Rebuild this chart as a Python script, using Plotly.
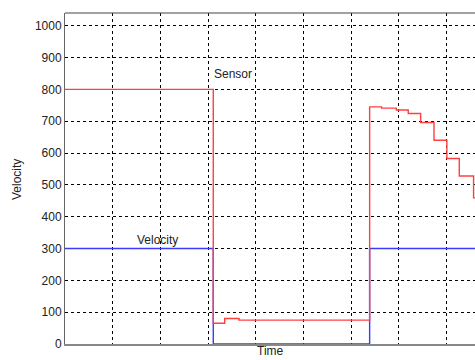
import plotly.graph_objects as go

# Sensor signal (step series)
sensor_time = [0, 31.1, 33.5, 36.5, 63.9, 66.4, 69.5, 72.0, 74.6, 77.4, 80.1, 82.7, 85.7, 90]
sensor_value = [800, 65, 80, 75, 745, 741, 735, 724, 696, 640, 583, 528, 459, 365]

# Velocity command (step series)
velocity_time = [0, 31.1, 63.9, 90]
velocity_value = [300, 0, 300, 300]

y_ticks = [0, 100, 200, 300, 400, 500, 600, 700, 800, 900, 1000]
x_grid = [0, 10, 20, 30, 40, 50, 60, 70, 80]

FONT = "Liberation Sans, Arial, sans-serif"

W, H = 475, 360
ML, MR, MT, MB = 65, 0, 13, 16
plot_w = W - ML - MR
plot_h = H - MT - MB

fig = go.Figure()
fig.add_trace(go.Scatter(x=velocity_time, y=velocity_value, mode="lines",
                         line=dict(color="#3a3aff", width=1.4, shape="hv"),
                         name="Velocity", showlegend=False))
fig.add_trace(go.Scatter(x=sensor_time, y=sensor_value, mode="lines",
                         line=dict(color="#ff4040", width=1.4, shape="hv"),
                         name="Sensor", showlegend=False))

fig.update_layout(
    width=W, height=H,
    margin=dict(l=ML, r=MR, t=MT, b=MB),
    paper_bgcolor="white", plot_bgcolor="white",
    font=dict(family=FONT, size=12, color="#222"),
    xaxis=dict(range=[0, 86], tickvals=x_grid, showticklabels=False, ticks="",
               showgrid=True, gridcolor="black", gridwidth=1, griddash="3px,3px",
               showline=True, linecolor="#888", linewidth=2, mirror=False,
               zeroline=False),
    yaxis=dict(range=[0, 1040], tickvals=y_ticks, ticks="",
               tickfont=dict(size=12, color="#222", family=FONT),
               showgrid=True, gridcolor="black", gridwidth=1, griddash="3px,3px",
               showline=True, linecolor="#666", linewidth=1, zeroline=False),
    shapes=[dict(type="line", xref="paper", yref="paper", x0=0, x1=1, y0=1, y1=1,
                 line=dict(color="#444", width=1))],
    annotations=[
        dict(text="Sensor", x=30.8, y=848, xref="x", yref="y", xanchor="left",
             yanchor="middle", showarrow=False, font=dict(size=12, color="#222")),
        dict(text="Velocity", x=14.7, y=327, xref="x", yref="y", xanchor="left",
             yanchor="middle", showarrow=False, font=dict(size=12, color="#222")),
        dict(text="Velocity", x=(17 - ML) / plot_w, y=(H - MB - 180) / plot_h,
             xref="paper", yref="paper", textangle=-90, xanchor="center",
             yanchor="middle", showarrow=False, font=dict(size=12, color="#222")),
        dict(text="Time", x=0.5, y=-(MB - 0.5) / plot_h, xref="paper", yref="paper",
             yanchor="bottom", showarrow=False, font=dict(size=12, color="#222")),
    ],
)

fig.write_html("out.html", config={"displayModeBar": False},
               post_script="document.body.style.margin='0';document.body.style.overflow='hidden';")
